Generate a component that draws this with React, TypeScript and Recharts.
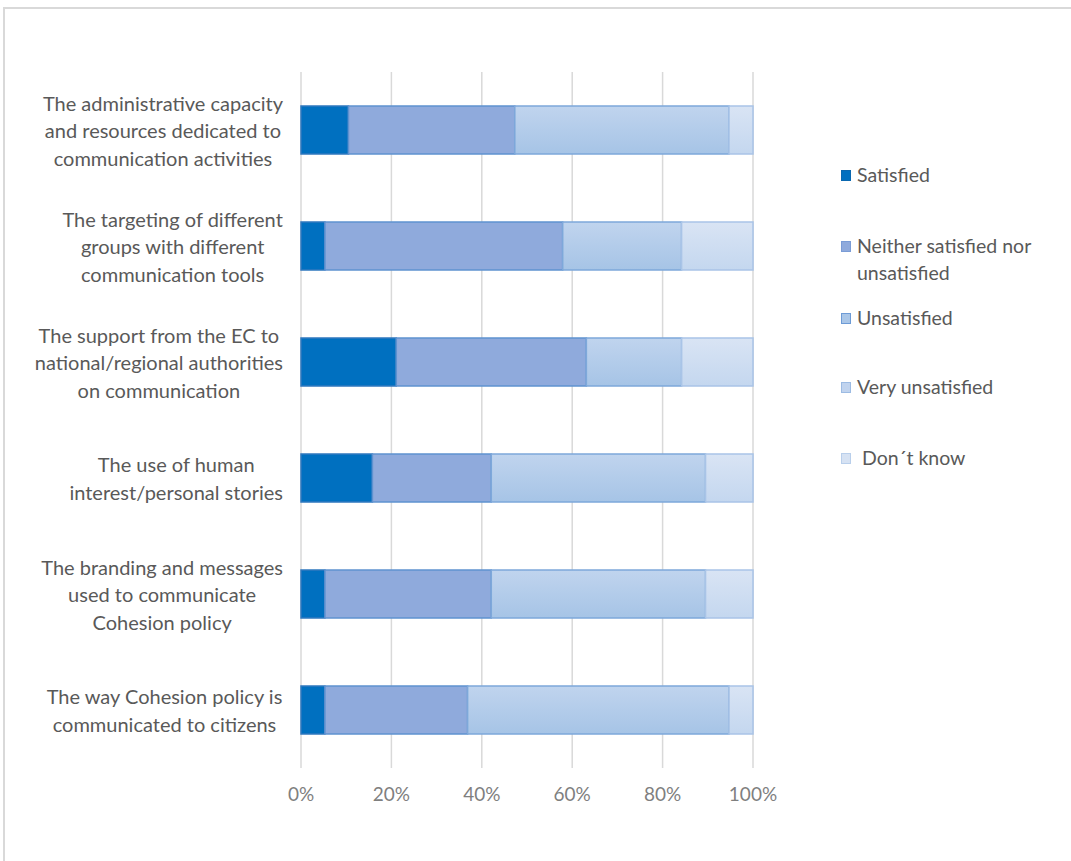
import React from 'react';
import { BarChart, Bar, XAxis, YAxis, CartesianGrid, Legend } from 'recharts';

const categories = [
  'The administrative capacity\nand resources dedicated to\ncommunication activities',
  'The targeting of different\ngroups with different\ncommunication tools',
  'The support from the EC to\nnational/regional authorities\non communication',
  'The use of human\ninterest/personal stories',
  'The branding and messages\nused to communicate\nCohesion policy',
  'The way Cohesion policy is\ncommunicated to citizens',
];
const satisfied = [10.5, 5.3, 21.1, 15.8, 5.3, 5.3];
const neither = [36.8, 52.6, 42.1, 26.3, 36.8, 31.6];
const unsatisfied = [47.4, 26.3, 21.1, 47.4, 47.4, 57.9];
const veryUnsatisfied = [0, 0, 0, 0, 0, 0];
const dontKnow = [5.3, 15.8, 15.8, 10.5, 10.5, 5.3];
const xTicks = [0, 0.2, 0.4, 0.6, 0.8, 1];

const seriesKeys = ['satisfied', 'neither', 'unsatisfied', 'veryUnsatisfied', 'dontKnow'];
const seriesNames = ['Satisfied', 'Neither satisfied nor unsatisfied', 'Unsatisfied', 'Very unsatisfied', 'Don´t know'];
const seriesFills = ['#0070C0', '#8FAADC', 'url(#gUnsat)', 'url(#gVery)', 'url(#gDk)'];
const seriesStrokes = ['#2f78bf', '#5f92d0', '#7ea8da', '#9dbbe3', '#a9c4e7'];
const legendFills = ['#0070C0', '#8FAADC', '#a9c6e8', '#c0d3ee', '#d6e2f3'];
const legendStrokes = ['#0a68b0', '#7a9cd6', '#6d9bd6', '#9cbbe3', '#b9cfeb'];
const legendTops = [161, 232, 304, 373, 444];

const data = categories.map((name, i) => ({
  name,
  satisfied: satisfied[i],
  neither: neither[i],
  unsatisfied: unsatisfied[i],
  veryUnsatisfied: veryUnsatisfied[i],
  dontKnow: dontKnow[i],
}));

const FONT = 'Lato, "Open Sans", sans-serif';
const FONT_SIZE = 20;
const LEGEND_FONT_SIZE = 19.5;

let measureCtx: CanvasRenderingContext2D | null = null;
function measure(t: string): number {
  if (!measureCtx) {
    const c = document.createElement('canvas');
    measureCtx = c.getContext('2d');
  }
  if (!measureCtx) return t.length * 9;
  measureCtx.font = `${FONT_SIZE}px Lato`;
  return measureCtx.measureText(t).width;
}

const YTick = (props: any) => {
  const { y, payload } = props;
  const lines = String(payload.value).split('\n');
  const maxW = Math.max(...lines.map(measure));
  const right = 283;
  const cx = right - maxW / 2;
  const lh = 27.5;
  const start = y - ((lines.length - 1) * lh) / 2;
  return (
    <text x={cx} y={start} textAnchor="middle" fill="#595959" fontSize={FONT_SIZE} fontFamily={FONT} dominantBaseline="central">
      {lines.map((l, i) => (
        <tspan key={i} x={cx} y={start + i * lh}>{l}</tspan>
      ))}
    </text>
  );
};

const LegendContent = () => (
  <div style={{ position: 'relative', width: 230, height: 330 }}>
    {seriesNames.map((n, i) => (
      <div key={n} style={{ position: 'absolute', left: 0, top: legendTops[i] - legendTops[0], display: 'flex', alignItems: 'flex-start' }}>
        <div style={{ width: 8, height: 9, marginTop: 9, background: legendFills[i], border: `1px solid ${legendStrokes[i]}`, flexShrink: 0 }} />
        <div style={{ marginLeft: i === 4 ? 11 : 6, width: 190, color: '#595959', fontSize: LEGEND_FONT_SIZE, fontFamily: FONT, lineHeight: '27px', textAlign: 'left' }}>{n}</div>
      </div>
    ))}
  </div>
);

export default function App() {
  return (
    <div style={{ position: 'absolute', left: 0, top: 0, width: 1071, height: 861, overflow: 'hidden', background: '#fff' }}>
      <div style={{ position: 'absolute', left: 3, top: 7, width: 1200, height: 1000, border: '2px solid #d9d9d9' }} />
      <div style={{ position: 'absolute', left: 0, top: 0 }}>
        <BarChart
          width={1071}
          height={861}
          data={data}
          layout="vertical"
          stackOffset="expand"
          margin={{ top: 72, right: 318, bottom: 53, left: 0 }}
        >
          <defs>
            <linearGradient id="gUnsat" x1="0" y1="0" x2="0" y2="1">
              <stop offset="0%" stopColor="#c0d4ee" />
              <stop offset="100%" stopColor="#a6c4e6" />
            </linearGradient>
            <linearGradient id="gVery" x1="0" y1="0" x2="0" y2="1">
              <stop offset="0%" stopColor="#ccdcf1" />
              <stop offset="100%" stopColor="#b6cdeb" />
            </linearGradient>
            <linearGradient id="gDk" x1="0" y1="0" x2="0" y2="1">
              <stop offset="0%" stopColor="#d9e4f4" />
              <stop offset="100%" stopColor="#c4d7ef" />
            </linearGradient>
          </defs>
          <CartesianGrid horizontal={false} stroke="#d9d9d9" strokeWidth={1.5} />
          <XAxis
            type="number"
            domain={[0, 1]}
            ticks={xTicks}
            tickFormatter={(v: number) => `${Math.round(v * 100)}%`}
            axisLine={false}
            tickLine={false}
            height={40}
            tickMargin={14}
            tick={{ fill: '#7f7f7f', fontSize: 19, fontFamily: FONT }}
            interval={0}
          />
          <YAxis
            type="category"
            dataKey="name"
            width={301}
            axisLine={false}
            tickLine={false}
            tick={<YTick />}
            interval={0}
          />
          <Legend
            layout="vertical"
            align="center"
            verticalAlign="middle"
            content={<LegendContent />}
            wrapperStyle={{ position: 'absolute', left: 841, top: legendTops[0], width: 230 }}
          />
          {seriesKeys.map((k, i) => (
            <Bar
              key={k}
              dataKey={k}
              name={seriesNames[i]}
              stackId="a"
              barSize={48}
              fill={seriesFills[i]}
              stroke={seriesStrokes[i]}
              strokeWidth={1.5}
              isAnimationActive={false}
            />
          ))}
        </BarChart>
      </div>
    </div>
  );
}
